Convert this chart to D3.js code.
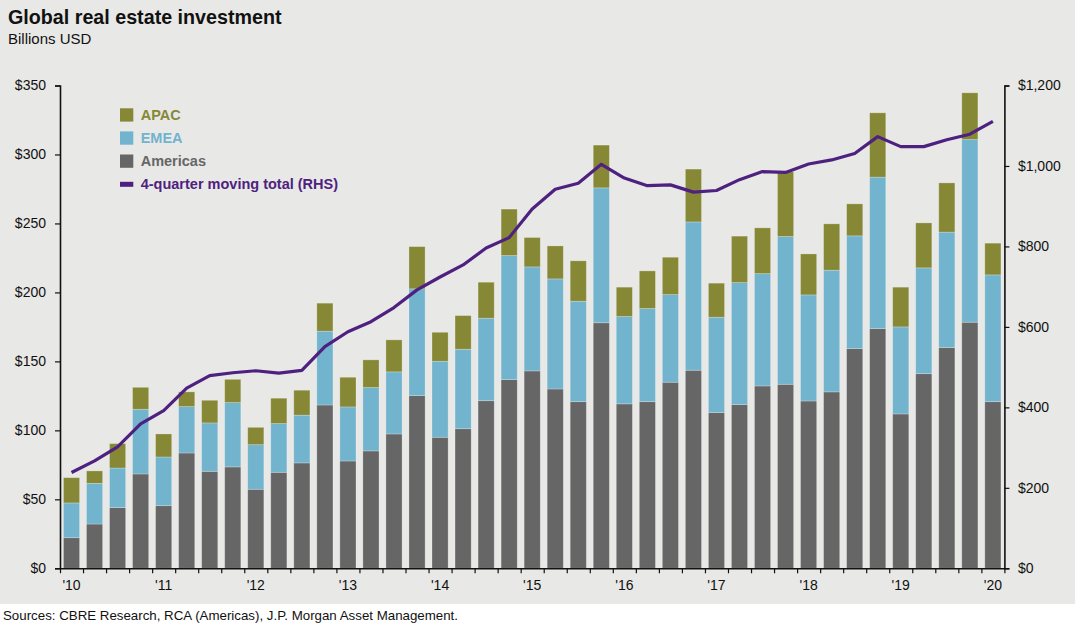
<!DOCTYPE html>
<html>
<head>
<meta charset="utf-8">
<script src="https://cdn.jsdelivr.net/npm/d3@7/dist/d3.min.js"></script>
<style>
  html, body { margin: 0; padding: 0; background: #ffffff; }
  svg { display: block; font-family: "Liberation Sans", Arial, sans-serif; }
</style>
</head>
<body>
<svg id="chart" width="1080" height="632"></svg>
<script>
// ---- Data (billions USD), 2010 Q1 .. 2020 Q1 ----
const quarters = d3.range(41).map(i => `${2010 + Math.floor(i / 4)}Q${(i % 4) + 1}`);
const yearLabels = ["'10","'11","'12","'13","'14","'15","'16","'17","'18","'19","'20"];

// Cumulative stack tops
const americas = [22.2, 32.1, 44.0, 68.4, 45.4, 83.6, 70.3, 73.5, 57.3, 69.6, 76.4, 118.4,
  77.8, 85.1, 97.4, 125.2, 95.0, 101.2, 121.5, 136.8, 143.1, 130.0, 120.8, 178.0,
  119.2, 120.8, 134.9, 143.6, 112.9, 118.7, 132.2, 133.4, 121.3, 127.9, 159.3, 173.8,
  111.9, 141.1, 160.0, 178.4, 120.8];
const emeaTop = [47.4, 61.6, 72.7, 115.3, 80.7, 117.2, 105.4, 120.1, 89.6, 104.9, 111.0, 171.9,
  117.0, 131.0, 142.4, 202.6, 150.1, 158.8, 181.3, 226.7, 218.5, 209.8, 193.6, 275.8,
  182.5, 188.3, 198.4, 251.1, 182.0, 207.1, 213.6, 240.5, 198.2, 216.1, 241.0, 283.6,
  175.0, 217.8, 243.7, 310.8, 212.7];
const apacTop = [65.7, 70.6, 90.4, 131.2, 97.4, 127.9, 121.8, 137.0, 102.2, 123.3, 129.1, 192.2,
  138.5, 151.1, 165.6, 233.2, 171.1, 183.2, 207.4, 260.4, 239.8, 233.7, 222.9, 306.8,
  203.8, 215.6, 225.5, 289.4, 206.7, 240.8, 246.8, 287.5, 227.9, 249.7, 264.2, 330.2,
  203.8, 250.4, 279.4, 344.7, 235.7];
// 4-quarter moving total (RHS)
const movingTotal = [238, 267, 302, 359, 392, 448, 479, 486, 491, 485, 492, 551,
  588, 613, 648, 692, 724, 754, 796, 822, 893, 942, 957, 1004,
  970, 951, 953, 935, 939, 966, 986, 984, 1005, 1015, 1031, 1073,
  1048, 1048, 1065, 1079, 1111];

const emea = emeaTop.map((v, i) => +(v - americas[i]).toFixed(1));
const apac = apacTop.map((v, i) => +(v - emeaTop[i]).toFixed(1));

const leftTicks = [0, 50, 100, 150, 200, 250, 300, 350];
const rightTicks = [0, 200, 400, 600, 800, 1000, 1200];

const seriesKeys = ["americas", "emea", "apac"];
const colors = { americas: "#666666", emea: "#72b3cd", apac: "#868836" };
const lineColor = "#4e2180";

const table = quarters.map((q, i) => ({ q, americas: americas[i], emea: emea[i], apac: apac[i], total: movingTotal[i] }));

// ---- Layout ----
const svg = d3.select("#chart");
const plot = { left: 60, right: 1004.4, top: 85.5, bottom: 568.3 };

svg.append("rect").attr("x", 0).attr("y", 0).attr("width", 1075).attr("height", 604).attr("fill", "#e8e8e6");

const x = d3.scaleBand().domain(quarters).range([plot.left, plot.right]).paddingInner(0.3).paddingOuter(0.15);
const yL = d3.scaleLinear().domain([0, 350]).range([plot.bottom, plot.top]);
const yR = d3.scaleLinear().domain([0, 1200]).range([plot.bottom, plot.top]);

// Bars
const stack = d3.stack().keys(seriesKeys)(table);
svg.append("g").selectAll("g").data(stack).join("g")
  .attr("fill", d => colors[d.key])
  .selectAll("rect").data(d => d).join("rect")
  .attr("x", d => x(d.data.q))
  .attr("width", x.bandwidth())
  .attr("y", d => yL(d[1]))
  .attr("height", d => yL(d[0]) - yL(d[1]))
  .attr("stroke", "rgba(255,255,255,0.3)")
  .attr("stroke-width", 0.8);

// Line
const line = d3.line().x(d => x(d.q) + x.bandwidth() / 2).y(d => yR(d.total)).curve(d3.curveLinear);
svg.append("path").datum(table).attr("d", line)
  .attr("fill", "none").attr("stroke", lineColor).attr("stroke-width", 3.2)
  .attr("stroke-linejoin", "round").attr("stroke-linecap", "butt");

// Axes
const fmtL = d => "$" + d;
const fmtR = d => "$" + d3.format(",")(d);

const gL = svg.append("g").attr("transform", `translate(${plot.left},0)`)
  .call(d3.axisLeft(yL).tickValues(leftTicks).tickFormat(fmtL).tickSize(5).tickPadding(9));
const gR = svg.append("g").attr("transform", `translate(${plot.right},0)`)
  .call(d3.axisRight(yR).tickValues(rightTicks).tickFormat(fmtR).tickSize(5).tickPadding(8.5));

// X axis: ticks at band boundaries, labels at Q1 bars
const xb = d3.scaleLinear().domain([0, 41]).range([plot.left, plot.right]);
const gX = svg.append("g").attr("transform", `translate(0,${plot.bottom})`)
  .call(d3.axisBottom(xb).tickValues(d3.range(42)).tickFormat("").tickSize(5).tickSizeOuter(0));

svg.append("g").selectAll("text").data(yearLabels).join("text")
  .attr("x", (d, i) => x(quarters[i * 4]) + x.bandwidth() / 2)
  .attr("y", 589.5)
  .attr("text-anchor", "middle")
  .attr("font-size", 14)
  .attr("fill", "#111")
  .text(d => d);

[gL, gR, gX].forEach(g => {
  g.selectAll(".domain").attr("stroke", "#111").attr("stroke-width", 1.6);
  g.selectAll(".tick line").attr("stroke", "#111").attr("stroke-width", 1.2);
  g.selectAll("text").attr("font-size", 14).attr("fill", "#111")
    .attr("font-family", "'Liberation Sans', Arial, sans-serif");
});

// Legend
const legendItems = [
  { label: "APAC", color: colors.apac, type: "box" },
  { label: "EMEA", color: colors.emea, type: "box" },
  { label: "Americas", color: colors.americas, type: "box" },
  { label: "4-quarter moving total (RHS)", color: lineColor, type: "line" }
];
const lg = svg.append("g");
legendItems.forEach((it, i) => {
  const cy = 115 + i * 23.1;
  if (it.type === "box") {
    lg.append("rect").attr("x", 120).attr("y", cy - 6.7).attr("width", 13.3).attr("height", 13.3).attr("fill", it.color);
  } else {
    lg.append("rect").attr("x", 120).attr("y", cy - 2.5).attr("width", 13.3).attr("height", 5).attr("fill", it.color);
  }
  lg.append("text").attr("x", 140.7).attr("y", cy + 5.1)
    .attr("font-size", 14.5).attr("font-weight", "bold").attr("fill", it.color).text(it.label);
});

// Titles
svg.append("text").attr("x", 8).attr("y", 24).attr("font-size", 19.7).attr("font-weight", "bold").attr("fill", "#111")
  .text("Global real estate investment");
svg.append("text").attr("x", 8).attr("y", 43.5).attr("font-size", 15).attr("fill", "#111")
  .text("Billions USD");
svg.append("text").attr("x", 3).attr("y", 619.5).attr("font-size", 13.3).attr("fill", "#111")
  .text("Sources: CBRE Research, RCA (Americas), J.P. Morgan Asset Management.");
</script>
</body>
</html>
